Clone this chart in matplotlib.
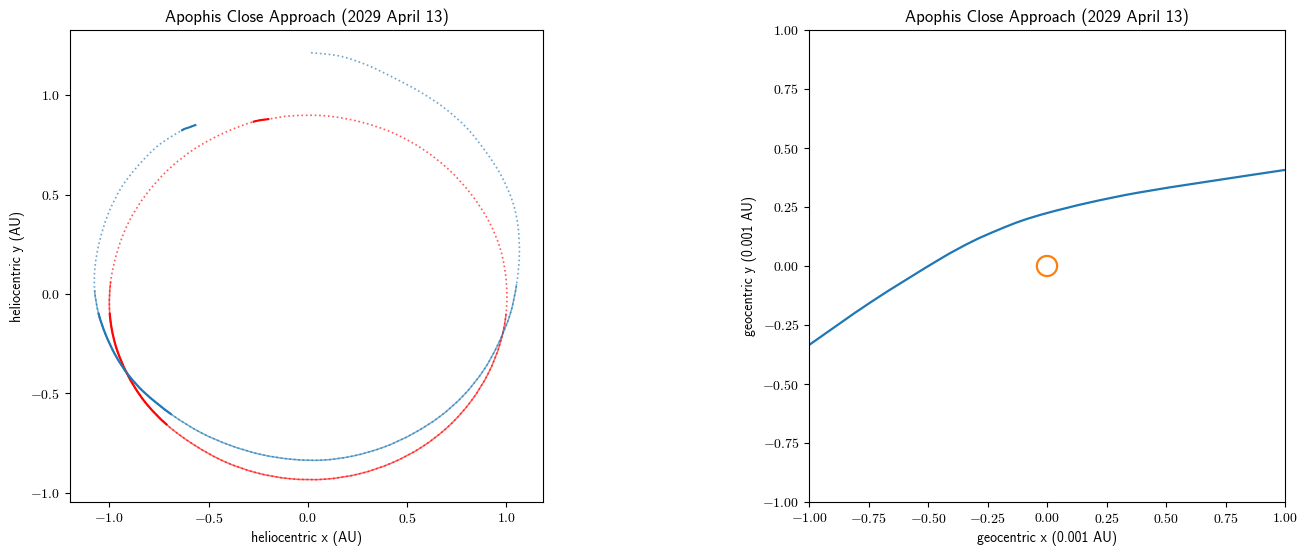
import matplotlib
matplotlib.use("Agg")
import matplotlib.pyplot as plt
from matplotlib.path import Path
from matplotlib.patches import PathPatch

plt.rcParams['font.family'] = 'cmr10'
plt.rcParams['mathtext.fontset'] = 'cm'
plt.rcParams['axes.formatter.use_mathtext'] = True
plt.rcParams['font.size'] = 10

# heliocentric positions (AU), in time order
earth_x = [-0.194, -0.278, -0.420, -0.570, -0.702, -0.814, -0.900, -0.958, -0.993, -0.998,
           -0.970, -0.910, -0.823, -0.708, -0.572, -0.421, -0.258, -0.087, 0.088, 0.260,
           0.424, 0.575, 0.710, 0.822, 0.909, 0.968, 0.999, 1.000, 0.972, 0.912,
           0.825, 0.712, 0.578, 0.427, 0.263, 0.090, -0.082, -0.194]
earth_y = [0.881, 0.866, 0.812, 0.731, 0.627, 0.502, 0.366, 0.220, 0.063, -0.096,
           -0.253, -0.402, -0.540, -0.660, -0.760, -0.843, -0.900, -0.930, -0.932, -0.905,
           -0.850, -0.770, -0.665, -0.540, -0.400, -0.252, -0.098, 0.062, 0.220, 0.366,
           0.500, 0.625, 0.730, 0.812, 0.867, 0.897, 0.897, 0.881]

apophis_x = [-0.562, -0.600, -0.638, -0.754, -0.854, -0.938, -1.005, -1.050, -1.072, -1.074,
             -1.055, -1.018, -0.968, -0.905, -0.821, -0.687, -0.540, -0.390, -0.235, -0.080,
             0.075, 0.230, 0.385, 0.530, 0.665, 0.785, 0.885, 0.960, 1.020, 1.052,
             1.066, 1.058, 1.030, 0.975, 0.900, 0.802, 0.690, 0.570, 0.440, 0.300,
             0.160, 0.012]
apophis_y = [0.852, 0.838, 0.822, 0.747, 0.647, 0.538, 0.405, 0.262, 0.135, 0.020,
             -0.095, -0.205, -0.310, -0.406, -0.498, -0.606, -0.697, -0.762, -0.808, -0.832,
             -0.836, -0.815, -0.770, -0.703, -0.617, -0.510, -0.385, -0.250, -0.100, 0.050,
             0.200, 0.350, 0.470, 0.595, 0.712, 0.835, 0.935, 1.015, 1.085, 1.152,
             1.198, 1.215]

# geocentric track of Apophis (0.001 AU)
geo_x = [-1.000, -0.737, -0.457, -0.316, -0.205, -0.106, 0.006, 0.174, 0.384, 0.664, 1.000]
geo_y = [-0.335, -0.151, 0.025, 0.103, 0.153, 0.192, 0.226, 0.268, 0.311, 0.356, 0.407]
earth_radius = 0.0426

title = 'Apophis Close Approach (2029 April 13)'
sans = 'cmss10'


def smooth_path(xs, ys, a=0, b=None):
    # smooth curve through the points a..b-1, tangents taken from neighbours
    n = len(xs)
    if b is None:
        b = n
    verts = [(xs[a], ys[a])]
    codes = [Path.MOVETO]
    for i in range(a, b - 1):
        i0 = max(i - 1, 0)
        i3 = min(i + 2, n - 1)
        c1 = (xs[i] + (xs[i + 1] - xs[i0]) / 6, ys[i] + (ys[i + 1] - ys[i0]) / 6)
        c2 = (xs[i + 1] - (xs[i3] - xs[i]) / 6, ys[i + 1] - (ys[i3] - ys[i]) / 6)
        verts += [c1, c2, (xs[i + 1], ys[i + 1])]
        codes += [Path.CURVE4] * 3
    return Path(verts, codes)


def curve(ax, xs, ys, a=0, b=None, **kw):
    ax.add_patch(PathPatch(smooth_path(xs, ys, a, b), fill=False, capstyle='butt', **kw))


def draw_orbit(ax, xs, ys, color, light, strong, start):
    curve(ax, xs, ys, ls=':', lw=1.2, color=color, alpha=0.65)
    curve(ax, xs, ys, *light, lw=1.1, color=color, alpha=0.6)
    curve(ax, xs, ys, *strong, lw=1.6, color=color, alpha=0.95)
    curve(ax, xs, ys, *start, lw=1.5, color=color)


fig = plt.figure(figsize=(13.04, 5.46), dpi=100)
ax1 = fig.add_axes([70/1304, 44/546, 473/1304, 472/546])
ax2 = fig.add_axes([809/1304, 44/546, 476/1304, 472/546])

# left: heliocentric orbits
draw_orbit(ax1, earth_x, earth_y, 'red', (8, 27), (9, 14), (0, 2))
draw_orbit(ax1, apophis_x, apophis_y, '#1f77b4', (9, 30), (10, 16), (0, 3))

ax1.set_xlim(-1.198, 1.185)
ax1.set_ylim(-1.047, 1.329)
ax1.set_xticks([-1.0, -0.5, 0.0, 0.5, 1.0])
ax1.set_yticks([-1.0, -0.5, 0.0, 0.5, 1.0])
ax1.set_xlabel('heliocentric x (AU)', fontfamily=sans)
ax1.set_ylabel('heliocentric y (AU)', fontfamily=sans)
ax1.set_title(title, fontfamily=sans, fontsize=12)

# right: geocentric view
curve(ax2, geo_x, geo_y, color='#1f77b4', lw=1.6)
ax2.add_patch(plt.Circle((0, 0), earth_radius, fill=False, color='#ff7f0e', lw=1.6))
ax2.set_xlim(-1, 1)
ax2.set_ylim(-1, 1)
ticks = [-1.0, -0.75, -0.5, -0.25, 0.0, 0.25, 0.5, 0.75, 1.0]
ax2.set_xticks(ticks)
ax2.set_yticks(ticks)
ax2.set_xlabel('geocentric x (0.001 AU)', fontfamily=sans)
ax2.set_ylabel('geocentric y (0.001 AU)', fontfamily=sans)
ax2.set_title(title, fontfamily=sans, fontsize=12)

fig.savefig('out.png', dpi=100)
